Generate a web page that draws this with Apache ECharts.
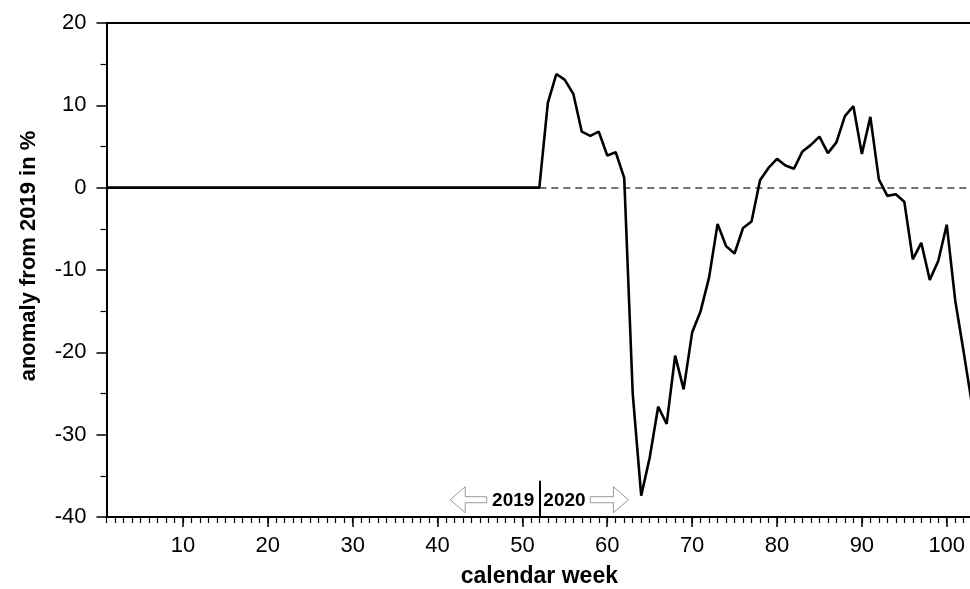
<!DOCTYPE html>
<html><head><meta charset="utf-8">
<script src="https://cdn.jsdelivr.net/npm/echarts@6/dist/echarts.min.js"></script>
<style>html,body{margin:0;padding:0;background:#fff}#c{width:970px;height:589px}</style>
</head><body><div id="c"></div>
<script>
const weeks = [1,2,3,4,5,6,7,8,9,10,11,12,13,14,15,16,17,18,19,20,21,22,23,24,25,26,27,28,29,30,31,32,33,34,35,36,37,38,39,40,41,42,43,44,45,46,47,48,49,50,51,52,53,54,55,56,57,58,59,60,61,62,63,64,65,66,67,68,69,70,71,72,73,74,75,76,77,78,79,80,81,82,83,84,85,86,87,88,89,90,91,92,93,94,95,96,97,98,99,100,101,102,103];
const anomaly = [0,0,0,0,0,0,0,0,0,0,0,0,0,0,0,0,0,0,0,0,0,0,0,0,0,0,0,0,0,0,0,0,0,0,0,0,0,0,0,0,0,0,0,0,0,0,0,0,0,0,0,0,
  10.3,13.8,13.1,11.4,6.8,6.3,6.8,3.9,4.3,1.2,
  -25.0,-37.4,-32.8,-26.6,-28.7,-20.4,-24.5,-17.6,-15.0,-10.9,
  -4.4,-7.1,-8.0,-4.9,-4.1,0.9,2.4,3.5,2.7,2.3,
  4.4,5.2,6.2,4.2,5.5,8.7,9.9,4.1,8.6,1.0,
  -1.0,-0.8,-1.7,-8.7,-6.7,-11.2,-8.9,-4.5,-13.7,-20.0,
  -26.5];
const xMajorTicks = [10,20,30,40,50,60,70,80,90,100];
const yearSplitWeek = 52;
const yearLabels = ['2019','2020'];
const xName = 'calendar week';
const yName = 'anomaly from 2019 in %';

const FONT = '"Liberation Sans", Arial, Helvetica, sans-serif';
const chart = echarts.init(document.getElementById('c'), null, {renderer:'canvas'});
const seriesData = weeks.map((w,i)=>[w, anomaly[i]]);
const XMIN = 1, XMAX = 103;

const option = {
  backgroundColor:'#fff',
  animation:false,
  grid:{left:106.5, right:-2.2, top:23, bottom:72, containLabel:false, outerBoundsMode:'none'},
  xAxis:[
    {type:'value', min:XMIN, max:XMAX, position:'bottom',
     axisLine:{show:true, onZero:false, lineStyle:{color:'#000', width:2}},
     axisTick:{show:true, customValues:xMajorTicks, length:10, lineStyle:{color:'#000', width:1.5}},
     axisLabel:{show:true, customValues:xMajorTicks, margin:18, color:'#000', fontSize:22, fontFamily:FONT},
     splitLine:{show:false},
     name:xName, nameLocation:'middle', nameGap:48,
     nameTextStyle:{color:'#000', fontSize:23, fontWeight:'bold', fontFamily:FONT}},
    {type:'value', min:XMIN, max:XMAX, position:'bottom',
     axisLine:{show:false, onZero:false},
     axisTick:{show:true, customValues:weeks, length:6, lineStyle:{color:'#000', width:1.2}},
     axisLabel:{show:false}, splitLine:{show:false}},
    {type:'value', min:XMIN, max:XMAX, position:'top',
     axisLine:{show:true, onZero:false, lineStyle:{color:'#000', width:2}},
     axisTick:{show:false}, axisLabel:{show:false}, splitLine:{show:false}}
  ],
  yAxis:{type:'value', min:-40, max:20, interval:10,
     axisLine:{show:true, onZero:false, lineStyle:{color:'#000', width:2}},
     axisTick:{show:true, length:10, lineStyle:{color:'#000', width:1.5}},
     minorTick:{show:true, splitNumber:2, length:6, lineStyle:{color:'#000', width:1.2}},
     axisLabel:{margin:20, color:'#000', fontSize:22, fontFamily:FONT},
     splitLine:{show:false},
     name:yName, nameLocation:'middle', nameGap:67, nameRotate:90,
     nameTextStyle:{color:'#000', fontSize:22, fontWeight:'bold', fontFamily:FONT, padding:[0,0,0,28]}},
  series:[{
    type:'line', data:seriesData, xAxisIndex:0, showSymbol:false, z:5,
    lineStyle:{color:'#000', width:2.6}, clip:true,
    markLine:{silent:true, symbol:['none','none'], label:{show:false}, animation:false,
      data:[
        [{coord:[yearSplitWeek,0], lineStyle:{type:[7,5], color:'#444', width:1.5}},{coord:[XMAX,0]}],
        [{coord:[yearSplitWeek,-35.6], lineStyle:{type:'solid', color:'#000', width:2}},{coord:[yearSplitWeek,-40]}]
      ]}
  }]
};
chart.setOption(option);

// annotation: arrows and year labels positioned via the chart's scales
const p = (x,y)=>chart.convertToPixel({xAxisIndex:0, yAxisIndex:0},[x,y]);
const arrowY = -37.9;
const c52 = p(yearSplitWeek, arrowY);
const lA = p(41.5, arrowY), lB = p(45.8, arrowY);
const rA = p(58.0, arrowY), rB = p(62.5, arrowY);
const headW = 15, headH = 13, shaftH = 3;
function leftArrow(x0,x1,y){
  return [[x0,y],[x0+headW,y-headH],[x0+headW,y-shaftH],[x1,y-shaftH],[x1,y+shaftH],[x0+headW,y+shaftH],[x0+headW,y+headH]];
}
function rightArrow(x0,x1,y){
  return [[x1,y],[x1-headW,y-headH],[x1-headW,y-shaftH],[x0,y-shaftH],[x0,y+shaftH],[x1-headW,y+shaftH],[x1-headW,y+headH]];
}
chart.setOption({graphic:[
  {type:'polygon', shape:{points:leftArrow(lA[0],lB[0],lA[1])}, style:{fill:'#fff', stroke:'#999', lineWidth:1}, z:10},
  {type:'polygon', shape:{points:rightArrow(rA[0],rB[0],rA[1])}, style:{fill:'#fff', stroke:'#999', lineWidth:1}, z:10},
  {type:'text', x:c52[0]-5, y:c52[1]+1, style:{text:yearLabels[0], fill:'#000', font:'bold 19px '+FONT, textAlign:'right', textVerticalAlign:'middle'}, z:10},
  {type:'text', x:c52[0]+4, y:c52[1]+1, style:{text:yearLabels[1], fill:'#000', font:'bold 19px '+FONT, textAlign:'left', textVerticalAlign:'middle'}, z:10}
]});
</script></body></html>
